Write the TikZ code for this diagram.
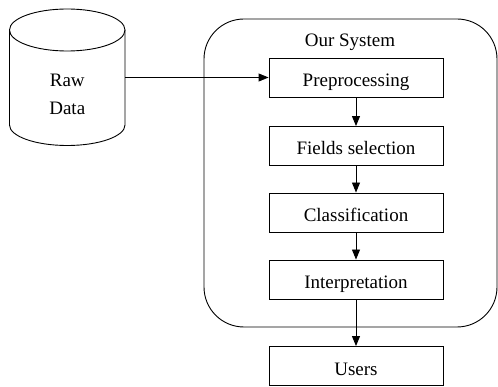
\documentclass[tikz,border=0pt]{standalone}
\usepackage{fontspec}
\setmainfont{Liberation Serif}
\usetikzlibrary{arrows.meta}
\begin{document}
\begin{tikzpicture}[x=1pt,y=-1pt,
  line width=0.9pt,
  stepbox/.style={draw,minimum width=174pt,minimum height=39pt,inner sep=0pt,text height=18pt,text depth=0pt,font=\fontsize{19}{23}\selectfont},
  lbl/.style={font=\fontsize{19}{28}\selectfont,align=center,inner sep=0pt},
  arr/.style={-{Triangle[length=10pt,width=8pt]}}]
\useasboundingbox (0,0) rectangle (498,387);
% cylinder
\draw (9.5,30) -- (9.5,125) arc[start angle=180,end angle=0,x radius=57.75,y radius=20.5] -- (125,30);
\draw (67.25,30) ellipse[x radius=57.75,y radius=21];
\node[inner sep=0pt,minimum width=115.5pt,minimum height=95pt] (raw) at (67.25,77.5) {};
\node[lbl] (rawtxt) at (67.25,94) {Raw\\Data};
% system box
\node[draw,rounded corners=40pt,minimum width=293pt,minimum height=308pt,inner sep=0pt] (sys) at (350.5,173) {};
\node[lbl] (systxt) at (350,42) {Our System};
\node[stepbox] (pre) at (356,77.5) {Preprocessing};
\node[stepbox] (fld) at (356,146) {Fields selection};
\node[stepbox] (cls) at (356,212.5) {Classification};
\node[stepbox] (int) at (356,279.5) {Interpretation};
\node[stepbox] (usr) at (356,366) {Users};
\draw[arr] (raw.east) -- (pre.west);
\draw[arr] (pre) -- (fld);
\draw[arr] (fld) -- (cls);
\draw[arr] (cls) -- (int);
\draw[arr] (int) -- (usr);
\end{tikzpicture}
\end{document}
